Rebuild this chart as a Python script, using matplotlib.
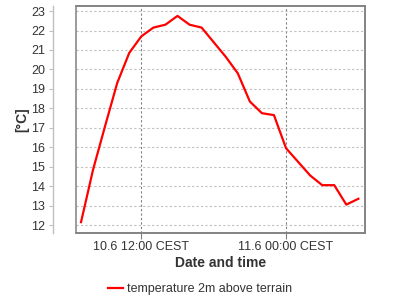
import matplotlib
matplotlib.use("Agg")
import matplotlib.pyplot as plt
from matplotlib.patches import Rectangle
import pandas as pd

plt.rcParams['font.family'] = ['Liberation Sans', 'DejaVu Sans']

# hourly temperature, 10.6 07:00 -> 11.6 06:00
times = pd.date_range("2024-06-10 07:00", periods=24, freq="h")
temps = [12.15, 14.85, 17.1, 19.3, 20.85, 21.7, 22.15, 22.3, 22.75, 22.3,
         22.15, 21.4, 20.65, 19.8, 18.35, 17.75, 17.65, 15.95, 15.25, 14.55,
         14.05, 14.05, 13.05, 13.35]
series_label = "temperature 2m above terrain"

xtick_times = pd.to_datetime(["2024-06-10 12:00", "2024-06-11 00:00"])
xtick_labels = ["10.6 12:00 CEST", "11.6 00:00 CEST"]
yticks = list(range(12, 24))

text_col = "#333333"
frame_col = "#808080"

fig = plt.figure(figsize=(4, 3), dpi=100)
ax = fig.add_axes([0.189, 0.2233, 0.7235, 0.7567])

ax.plot(times, temps, color="#ff0000", lw=1.6, label=series_label, zorder=3)

ax.set_xlim(times[0] - pd.Timedelta(minutes=27), times[-1] + pd.Timedelta(minutes=33))
ax.set_ylim(11.59, 23.26)

ax.set_xticks(xtick_times)
ax.set_xticklabels(xtick_labels)
ax.set_yticks(yticks)

ax.yaxis.grid(True, color="#c0c0c0", ls=(0, (2, 2)), lw=0.8)
ax.xaxis.grid(True, color="#808080", ls=(0, (2, 2)), lw=0.8)

# y axis drawn apart from the plot frame
for s in ["top", "right", "bottom"]:
    ax.spines[s].set_color(frame_col)
    ax.spines[s].set_linewidth(1.1)
ax.spines["left"].set_position(("outward", 16))
ax.spines["left"].set_color("#c0c0c0")
ax.spines["left"].set_linewidth(1.0)
ax.add_patch(Rectangle((0, 0), 1, 1, transform=ax.transAxes, fill=False,
                       ec=frame_col, lw=1.1, clip_on=False, zorder=4))

ax.tick_params(axis="y", length=3, pad=3, color="#c0c0c0", labelsize=9, labelcolor=text_col)
ax.tick_params(axis="x", length=4, pad=2, color=frame_col, labelsize=9, labelcolor=text_col)

ax.set_xlabel("Date and time", fontsize=10, fontweight="bold", color=text_col, labelpad=2)
ax.set_ylabel("[°C]", fontsize=10, fontweight="bold", color=text_col, labelpad=1)

fig.legend(loc="center", bbox_to_anchor=(0.5, 0.037), frameon=False, fontsize=9,
           handlelength=1.2, handletextpad=0.3, labelcolor=text_col)

fig.savefig("out.png", dpi=100)
